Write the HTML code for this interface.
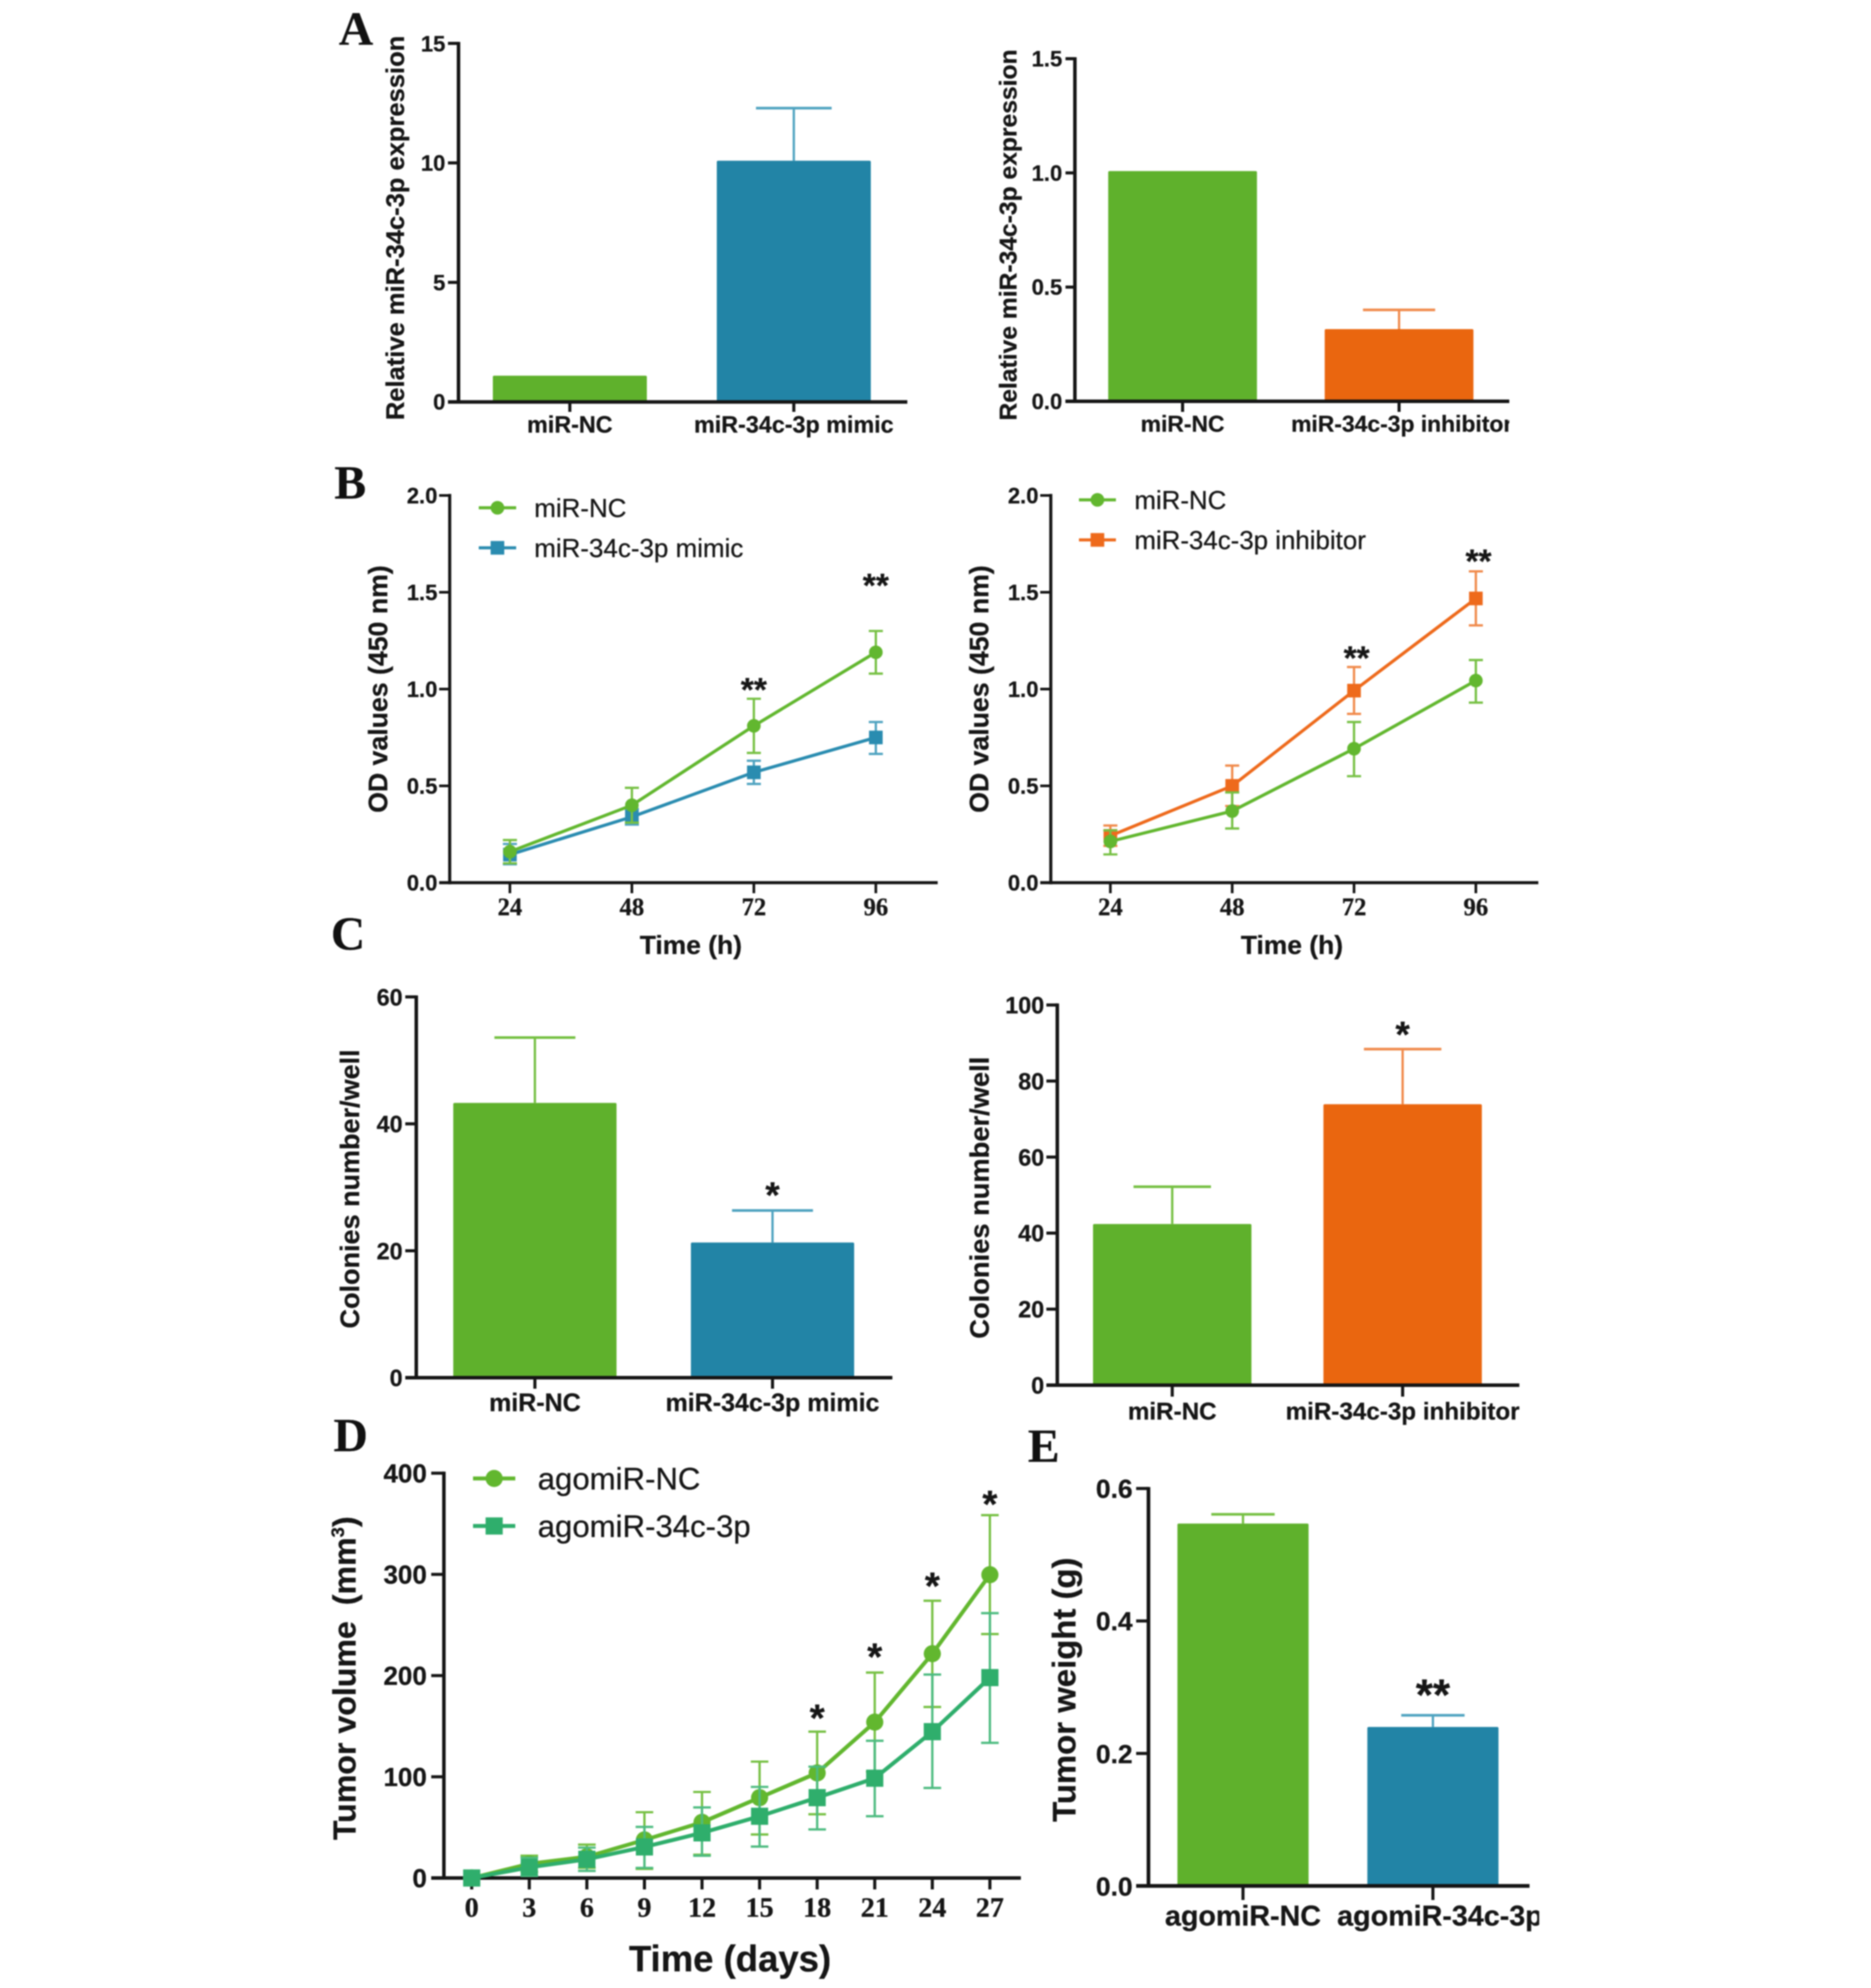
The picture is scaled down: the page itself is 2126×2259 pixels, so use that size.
<!DOCTYPE html>
<html lang="en">
<head>
<meta charset="utf-8">
<title>miR-34c-3p multi-panel figure</title>
<style>
html,body{margin:0;padding:0;background:#fff;}
body{width:2126px;height:2259px;overflow:hidden;}
svg{display:block;filter:blur(0.85px);}
text{font-family:"Liberation Sans",sans-serif;fill:#161616;stroke:#161616;stroke-width:0.3px;}
.letter{font-family:"Liberation Serif",serif;font-weight:700;font-size:54px;fill:#111;}
.ytitle{font-weight:700;text-anchor:middle;}
.xtitle{font-weight:700;text-anchor:middle;}
</style>
</head>
<body>
<svg id="figure" xmlns="http://www.w3.org/2000/svg" width="2126" height="2259" viewBox="0 0 2126 2259">
  <defs>
    <clipPath id="clip-a2"><rect x="1400" y="460" width="315" height="50"/></clipPath>
    <clipPath id="clip-e"><rect x="1500" y="2150" width="249" height="60"/></clipPath>
  </defs>
  <rect width="2126" height="2259" fill="#fff"/>

  <text class="letter" x="385" y="51">A</text>
  <text class="letter" x="380" y="566.5">B</text>
  <text class="letter" x="376" y="1079">C</text>
  <text class="letter" x="379" y="1649">D</text>
  <text class="letter" x="1168" y="1661">E</text>

  <text class="ytitle" font-size="29" transform="translate(459 259) rotate(-90)">Relative miR-34c-3p expression</text>
  <text class="ytitle" font-size="28" transform="translate(1155 267) rotate(-90)">Relative miR-34c-3p expression</text>
  <text class="ytitle" font-size="30.3" transform="translate(440 783) rotate(-90)">OD values (450 nm)</text>
  <text class="ytitle" font-size="30.3" transform="translate(1123 783) rotate(-90)">OD values (450 nm)</text>
  <text class="xtitle" font-size="30" x="785" y="1084">Time (h)</text>
  <text class="xtitle" font-size="30" x="1468" y="1084">Time (h)</text>
  <text class="ytitle" font-size="30.7" transform="translate(408 1351) rotate(-90)">Colonies number/well</text>
  <text class="ytitle" font-size="31" transform="translate(1123.5 1361) rotate(-90)">Colonies number/well</text>
  <text class="ytitle" font-size="36.5" transform="translate(404 1907) rotate(-90)">Tumor volume <tspan dx="8">(mm</tspan><tspan font-size="21" dy="-13">3</tspan><tspan dy="13">)</tspan></text>
  <text class="xtitle" font-size="41.5" x="829.5" y="2240">Time (days)</text>
  <text class="ytitle" font-size="37.4" transform="translate(1222 1920) rotate(-90)">Tumor weight (g)</text>
</svg>

<script>
// ---------- chart data ----------
const a1Categories = ['miR-NC', 'miR-34c-3p mimic'];
const a1Values = [1.1, 10.09];
const a1ErrorTops = [null, 12.29];
const a1TickLabels = ['0', '5', '10', '15'];

const a2Categories = ['miR-NC', 'miR-34c-3p inhibitor'];
const a2Values = [1.008, 0.316];
const a2ErrorTops = [null, 0.40];
const a2TickLabels = ['0.0', '0.5', '1.0', '1.5'];

const bHours = [24, 48, 72, 96];
const bTickLabels = ['0.0', '0.5', '1.0', '1.5', '2.0'];

const b1ControlValues = [0.16, 0.40, 0.81, 1.19];
const b1ControlTops = [0.22, 0.49, 0.95, 1.30];
const b1ControlBottoms = [0.10, 0.31, 0.67, 1.08];
const b1MimicValues = [0.145, 0.34, 0.57, 0.75];
const b1MimicTops = [0.20, 0.38, 0.63, 0.83];
const b1MimicBottoms = [0.095, 0.30, 0.51, 0.665];
const b1StarHours = [72, 96];
const b1StarLevels = [1.02, 1.56];

const b2ControlValues = [0.213, 0.37, 0.692, 1.044];
const b2ControlTops = [0.27, 0.466, 0.83, 1.15];
const b2ControlBottoms = [0.146, 0.28, 0.55, 0.93];
const b2InhibitorValues = [0.242, 0.50, 0.992, 1.468];
const b2InhibitorTops = [0.295, 0.605, 1.114, 1.608];
const b2InhibitorBottoms = [0.19, 0.396, 0.872, 1.329];
const b2StarHours = [72, 96];
const b2StarLevels = [1.184, 1.685];

const c1Categories = ['miR-NC', 'miR-34c-3p mimic'];
const c1Values = [43.3, 21.3];
const c1ErrorTops = [53.6, 26.35];
const c1TickLabels = ['0', '20', '40', '60'];
const c1StarLabels = [null, '*'];
const c1StarLevels = [null, 29.5];

const c2Categories = ['miR-NC', 'miR-34c-3p inhibitor'];
const c2Values = [42.4, 73.9];
const c2ErrorTops = [52.2, 88.4];
const c2TickLabels = ['0', '20', '40', '60', '80', '100'];
const c2StarLabels = [null, '*'];
const c2StarLevels = [null, 93.5];

const dDays = [0, 3, 6, 9, 12, 15, 18, 21, 24, 27];
const dTickLabels = ['0', '100', '200', '300', '400'];
const dControlValues = [0, 14, 21, 37.6, 55, 79.4, 103.8, 154, 221.6, 299.7];
const dControlTops = [0, 22, 33, 65, 85, 115, 144.6, 203, 274, 358.5];
const dControlBottoms = [0, 6, 10, 9, 23, 43, 63, 105, 169, 241];
const dAgomirValues = [0, 10.5, 18.5, 30.7, 44.6, 61, 79.4, 98.6, 144.6, 198];
const dAgomirTops = [0, 20, 30, 50.5, 69.7, 90, 110, 135.6, 201, 261.7];
const dAgomirBottoms = [0, 2, 7, 10, 22, 31, 48, 61, 89, 133.5];
const dStarDays = [18, 21, 24, 27];
const dStarLevels = [163.6, 223.9, 294, 374.8];

const eCategories = ['agomiR-NC', 'agomiR-34c-3p'];
const eValues = [0.547, 0.24];
const eErrorTops = [0.561, 0.2576];
const eTickLabels = ['0.0', '0.2', '0.4', '0.6'];
const eStarLabels = [null, '**'];
const eStarLevels = [null, 0.297];

// ---------- colours ----------
const GREEN = '#5fb12c';
const TEAL = '#2284a6';
const ORANGE = '#ea660f';
const SEA = '#2fae6c';
const GREEN_LINE = '#62b72f';
const TEAL_LINE = '#2a8cb0';
const ORANGE_LINE = '#ee6a1c';
const GREEN_ERR = '#76c043';
const TEAL_ERR = '#4fa3c0';
const ORANGE_ERR = '#f08a4b';
const SEA_ERR = '#4dbb80';
const AXIS = '#151515';

// ---------- helpers ----------
const NS = 'http://www.w3.org/2000/svg';
const root = document.getElementById('figure');

function make(tag, attrs, parent) {
  const node = document.createElementNS(NS, tag);
  Object.keys(attrs).forEach(function (k) { node.setAttribute(k, attrs[k]); });
  parent.appendChild(node);
  return node;
}

function drawLine(parent, x1, y1, x2, y2, color, width, name) {
  const ln = make('line', { x1: x1, y1: y1, x2: x2, y2: y2, stroke: color, 'stroke-width': width }, parent);
  
  
  return ln;
}

function drawText(parent, str, x, y, opts, name) {
  const t = make('text', { x: x, y: y, 'font-size': opts.size, 'font-weight': opts.weight || 700,
    'text-anchor': opts.anchor || 'middle' }, parent);
  if (opts.serif) t.style.fontFamily = '"Liberation Serif", serif';
  if (opts.clip) t.setAttribute('clip-path', 'url(#' + opts.clip + ')');
  t.textContent = str;
  
  
  return t;
}

function makeYScale(p) {
  return function (v) { return p.y0 - (v / p.yMax) * (p.y0 - p.yTop); };
}

function drawYAxis(g, p, yScale, tickLabels) {
  drawLine(g, p.axisX, p.yTop - 1.7, p.axisX, p.y0 + 1.7, AXIS, p.axisWidth, p.id + '-y-axis');
  drawLine(g, p.tickLeft, p.y0, p.xEnd, p.y0, AXIS, p.axisWidth, p.id + '-x-axis');
  tickLabels.forEach(function (label) {
    const y = yScale(Number(label));
    drawLine(g, p.tickLeft, y, p.axisX, y, AXIS, p.tickWidth, p.id + '-y-tick-' + label);
    drawText(g, label, p.tickLabelRight, y + p.tickFont * 0.36,
      { size: p.tickFont, anchor: 'end' }, p.id + '-y-tick-label-' + label);
  });
}

function drawStar(g, p, str, x, y, name) {
  drawText(g, str, x, y + p.starFont * 0.475, { size: p.starFont }, name);
}

// ---------- bar panels ----------
function drawBarPanel(p, categories, values, errorTops, tickLabels, colors, errColors, starLabels, starLevels) {
  const g = make('g', {}, root);
  
  
  const yScale = makeYScale(p);
  const xScale = function (i) { return p.firstCenter + i * p.step; };

  categories.forEach(function (cat, i) {
    const cx = xScale(i);
    if (errorTops[i] !== null) {
      drawLine(g, cx, yScale(errorTops[i]), cx, yScale(values[i]), errColors[i], 2.6, p.id + '-error-stem-' + i);
      drawLine(g, cx - p.capHalf, yScale(errorTops[i]), cx + p.capHalf, yScale(errorTops[i]), errColors[i], 3, p.id + '-error-cap-' + i);
    }
    const bar = make('rect', { x: cx - p.barWidth / 2, y: yScale(values[i]), width: p.barWidth,
      height: p.y0 - yScale(values[i]), fill: colors[i], rx: 1.5 }, g);
    
    
  });

  drawYAxis(g, p, yScale, tickLabels);

  categories.forEach(function (cat, i) {
    const cx = xScale(i);
    drawLine(g, cx, p.y0, cx, p.tickBottom, AXIS, p.tickWidth, p.id + '-x-tick-' + i);
    const offset = p.labelOffsets ? p.labelOffsets[i] : 0;
    drawText(g, cat, cx + offset, p.labelBase, { size: p.labelFont, clip: i === 1 ? p.clip : null }, p.id + '-x-label-' + i);
    if (starLabels && starLabels[i]) {
      drawStar(g, p, starLabels[i], cx, yScale(starLevels[i]), p.id + '-significance-' + i);
    }
  });
}

// ---------- line panels ----------
function drawSeries(g, p, s, xScale, yScale, xs) {
  const sg = make('g', {}, g);
  
  
  xs.forEach(function (xv, i) {
    const x = xScale(xv);
    drawLine(sg, x, yScale(s.tops[i]), x, yScale(s.bottoms[i]), s.err, p.errWidth, p.id + '-' + s.key + '-error-' + xv);
    drawLine(sg, x - p.capHalf, yScale(s.tops[i]), x + p.capHalf, yScale(s.tops[i]), s.err, p.errWidth, p.id + '-' + s.key + '-cap-top-' + xv);
    drawLine(sg, x - p.capHalf, yScale(s.bottoms[i]), x + p.capHalf, yScale(s.bottoms[i]), s.err, p.errWidth, p.id + '-' + s.key + '-cap-bottom-' + xv);
  });
  const pts = xs.map(function (xv, i) { return xScale(xv) + ',' + yScale(s.values[i]); }).join(' ');
  const pl = make('polyline', { points: pts, fill: 'none', stroke: s.color, 'stroke-width': p.lineWidth, 'stroke-linejoin': 'round' }, sg);
  
  
  xs.forEach(function (xv, i) {
    const m = drawMarker(sg, s, xScale(xv), yScale(s.values[i]), p.markerSize);
    
    
  });
}

function drawMarker(parent, s, x, y, size) {
  if (s.shape === 'circle') {
    return make('circle', { cx: x, cy: y, r: size / 2, fill: s.color }, parent);
  }
  return make('rect', { x: x - size / 2, y: y - size / 2, width: size, height: size, fill: s.color }, parent);
}

function drawLinePanel(p, xs, tickLabels, series, starXs, starLevels, starStr) {
  const g = make('g', {}, root);
  
  
  const yScale = makeYScale(p);
  const xScale = function (v) { return p.xFirst + (v - xs[0]) / (xs[xs.length - 1] - xs[0]) * (p.xLast - p.xFirst); };

  drawYAxis(g, p, yScale, tickLabels);
  xs.forEach(function (v) {
    const x = xScale(v);
    drawLine(g, x, p.y0, x, p.tickBottom, AXIS, p.tickWidth, p.id + '-x-tick-' + v);
    drawText(g, String(v), x, p.labelBase, { size: p.labelFont, serif: true }, p.id + '-x-tick-label-' + v);
  });

  series.forEach(function (s) { drawSeries(g, p, s, xScale, yScale, xs); });

  starXs.forEach(function (v, i) {
    drawStar(g, p, starStr, xScale(v) + p.starDx, yScale(starLevels[i]), p.id + '-significance-' + v);
  });

  p.legendOrder.forEach(function (idx, row) {
    const s = series[idx];
    const y = p.legendY[row];
    const lg = make('g', {}, g);
    
    
    drawLine(lg, p.legendLine[0], y, p.legendLine[1], y, s.color, p.lineWidth, p.id + '-legend-line-' + s.key);
    const mk = drawMarker(lg, s, (p.legendLine[0] + p.legendLine[1]) / 2, y, p.markerSize);
    
    
    drawText(lg, s.name, p.legendText, y + p.legendFont * 0.36,
      { size: p.legendFont, weight: 400, anchor: 'start' }, p.id + '-legend-label-' + s.key);
  });
}

// ---------- panels ----------
drawBarPanel({ id: 'a1', axisX: 521, y0: 456.7, yTop: 49.3, yMax: 15, xEnd: 1031, tickLeft: 509, axisWidth: 4, tickWidth: 3.5,
  tickLabelRight: 506, tickFont: 25, firstCenter: 647.5, step: 254.5, barWidth: 175, capHalf: 43,
  tickBottom: 468, labelBase: 491.5, labelFont: 26.5 },
  a1Categories, a1Values, a1ErrorTops, a1TickLabels, [GREEN, TEAL], [GREEN_ERR, TEAL_ERR]);

drawBarPanel({ id: 'a2', axisX: 1221.4, y0: 456, yTop: 66.7, yMax: 1.5, xEnd: 1715, tickLeft: 1210.7, axisWidth: 4, tickWidth: 3.5,
  tickLabelRight: 1207, tickFont: 25, firstCenter: 1343.75, step: 246, barWidth: 169, capHalf: 41,
  tickBottom: 468, labelBase: 490.5, labelFont: 26, clip: 'clip-a2', labelOffsets: [0, 3] },
  a2Categories, a2Values, a2ErrorTops, a2TickLabels, [GREEN, ORANGE], [GREEN_ERR, ORANGE_ERR]);

const b1Series = [
  { key: 'mimic', name: 'miR-34c-3p mimic', shape: 'square', color: TEAL_LINE, err: TEAL_ERR, values: b1MimicValues, tops: b1MimicTops, bottoms: b1MimicBottoms },
  { key: 'control', name: 'miR-NC', shape: 'circle', color: GREEN_LINE, err: GREEN_ERR, values: b1ControlValues, tops: b1ControlTops, bottoms: b1ControlBottoms }
];
drawLinePanel({ id: 'b1', axisX: 511, y0: 1003, yTop: 563, yMax: 2, xEnd: 1065.5, tickLeft: 499, axisWidth: 3.5, tickWidth: 3,
  tickLabelRight: 497, tickFont: 25, xFirst: 579.4, xLast: 995.2, tickBottom: 1015, labelBase: 1040, labelFont: 28,
  errWidth: 2.6, capHalf: 8, lineWidth: 3.6, markerSize: 15.5, starFont: 38, starDx: 0,
  legendOrder: [1, 0], legendY: [577, 622.5], legendLine: [544, 586.5], legendText: 607, legendFont: 29.5 },
  bHours, bTickLabels, b1Series, b1StarHours, b1StarLevels, '**');

const b2Series = [
  { key: 'inhibitor', name: 'miR-34c-3p inhibitor', shape: 'square', color: ORANGE_LINE, err: ORANGE_ERR, values: b2InhibitorValues, tops: b2InhibitorTops, bottoms: b2InhibitorBottoms },
  { key: 'control', name: 'miR-NC', shape: 'circle', color: GREEN_LINE, err: GREEN_ERR, values: b2ControlValues, tops: b2ControlTops, bottoms: b2ControlBottoms }
];
drawLinePanel({ id: 'b2', axisX: 1194, y0: 1003, yTop: 563, yMax: 2, xEnd: 1748, tickLeft: 1182, axisWidth: 3.5, tickWidth: 3,
  tickLabelRight: 1180, tickFont: 25, xFirst: 1261.7, xLast: 1677, tickBottom: 1015, labelBase: 1040, labelFont: 28,
  errWidth: 2.6, capHalf: 8, lineWidth: 3.6, markerSize: 15.5, starFont: 38, starDx: 3,
  legendOrder: [1, 0], legendY: [568, 613.5], legendLine: [1226, 1268], legendText: 1289, legendFont: 29.4 },
  bHours, bTickLabels, b2Series, b2StarHours, b2StarLevels, '**');

drawBarPanel({ id: 'c1', axisX: 473, y0: 1565.5, yTop: 1132.8, yMax: 60, xEnd: 1014, tickLeft: 460.5, axisWidth: 4, tickWidth: 3.5,
  tickLabelRight: 457.5, tickFont: 26.5, firstCenter: 607.8, step: 270, barWidth: 185.5, capHalf: 46,
  tickBottom: 1578, labelBase: 1603.4, labelFont: 28.4, starFont: 42 },
  c1Categories, c1Values, c1ErrorTops, c1TickLabels, [GREEN, TEAL], [GREEN_ERR, TEAL_ERR], c1StarLabels, c1StarLevels);

drawBarPanel({ id: 'c2', axisX: 1201.4, y0: 1574, yTop: 1142, yMax: 100, xEnd: 1726.4, tickLeft: 1189, axisWidth: 4, tickWidth: 3.5,
  tickLabelRight: 1186.5, tickFont: 26.5, firstCenter: 1332, step: 261.8, barWidth: 180, capHalf: 44,
  tickBottom: 1587, labelBase: 1612.8, labelFont: 27.5, starFont: 42 },
  c2Categories, c2Values, c2ErrorTops, c2TickLabels, [GREEN, ORANGE], [GREEN_ERR, ORANGE_ERR], c2StarLabels, c2StarLevels);

const dSeries = [
  { key: 'agomir-nc', name: 'agomiR-NC', shape: 'circle', color: GREEN_LINE, err: GREEN_ERR, values: dControlValues, tops: dControlTops, bottoms: dControlBottoms },
  { key: 'agomir-34c', name: 'agomiR-34c-3p', shape: 'square', color: SEA, err: SEA_ERR, values: dAgomirValues, tops: dAgomirTops, bottoms: dAgomirBottoms }
];
drawLinePanel({ id: 'd', axisX: 504.4, y0: 2134, yTop: 1674, yMax: 400, xEnd: 1160, tickLeft: 490, axisWidth: 4, tickWidth: 3.5,
  tickLabelRight: 485, tickFont: 29.5, xFirst: 536, xLast: 1124.8, tickBottom: 2147, labelBase: 2178, labelFont: 32,
  errWidth: 2.6, capHalf: 10, lineWidth: 4.5, markerSize: 19.5, starFont: 44, starDx: 0,
  legendOrder: [0, 1], legendY: [1680, 1734], legendLine: [537.5, 585.5], legendText: 611, legendFont: 35.4 },
  dDays, dTickLabels, dSeries, dStarDays, dStarLevels, '*');

drawBarPanel({ id: 'e', axisX: 1305, y0: 2143, yTop: 1691.4, yMax: 0.6, xEnd: 1738, tickLeft: 1291, axisWidth: 4.2, tickWidth: 3.5,
  tickLabelRight: 1287, tickFont: 30, firstCenter: 1412.4, step: 215.8, barWidth: 149, capHalf: 36,
  tickBottom: 2159, labelBase: 2188, labelFont: 32.6, starFont: 50, labelOffsets: [0, 8], clip: 'clip-e' },
  eCategories, eValues, eErrorTops, eTickLabels, [GREEN, TEAL], [GREEN_ERR, TEAL_ERR], eStarLabels, eStarLevels);
</script>
</body>
</html>
